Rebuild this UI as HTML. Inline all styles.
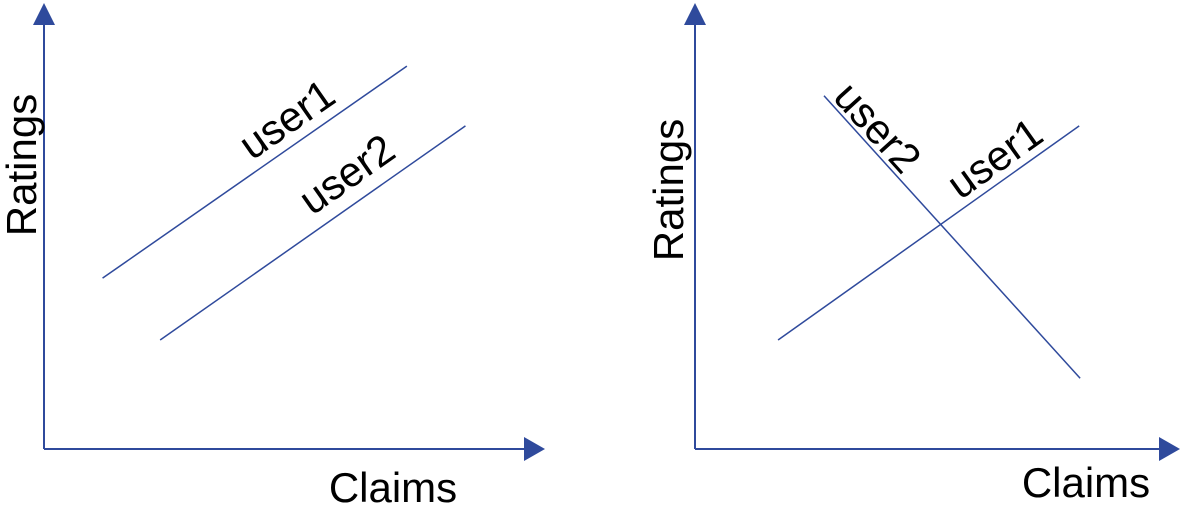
<!DOCTYPE html>
<html><head><meta charset="utf-8"><style>
body{margin:0;background:#fff;width:1200px;height:509px;overflow:hidden}
text{font-family:"Liberation Sans",Arial,sans-serif;fill:#000}
</style></head><body>
<svg width="1200" height="509">
<g id="left"></g>
<g id="right"></g>
</svg>
<script>
const leftSeries = ["user1", "user2"];
const leftX1 = [12.2, 24.2];
const leftY1 = [40.3, 25.7];
const leftX2 = [75.6, 87.8];
const leftY2 = [90.3, 76.2];
const rightSeries = ["user1", "user2"];
const rightX1 = [17.9, 27.8];
const rightY1 = [25.7, 83.3];
const rightX2 = [82.8, 83.0];
const rightY2 = [76.2, 16.7];
const C = "#2f4a9c";
const NS = "http://www.w3.org/2000/svg";
function mk(tag, attrs, parent){const e=document.createElementNS(NS,tag);for(const k in attrs)e.setAttribute(k,attrs[k]);parent.appendChild(e);return e;}
function chart(g, ox, xEnd, oy, yTop, series, x1, y1, x2, y2, labelPos, claimsPos, ratingsPos){
  const sx = v => ox + v/100*(xEnd-ox);
  const sy = v => oy - v/100*(oy-yTop);
  let e = mk('line',{x1:ox,y1:oy,x2:ox,y2:yTop,stroke:C,'stroke-width':2},g);
   
  e = mk('polygon',{points:`${ox-11},${yTop} ${ox+11},${yTop} ${ox},${yTop-22}`,fill:C},g);
   
  e = mk('line',{x1:ox,y1:oy,x2:xEnd,y2:oy,stroke:C,'stroke-width':2},g);
   
  e = mk('polygon',{points:`${xEnd},${oy-12} ${xEnd},${oy+12} ${xEnd+21},${oy}`,fill:C},g);
   
  for(let i=0;i<series.length;i++){
    const ax=sx(x1[i]), ay=sy(y1[i]), bx=sx(x2[i]), by=sy(y2[i]);
    e = mk('line',{x1:ax,y1:ay,x2:bx,y2:by,stroke:C,'stroke-width':1.5},g);
     
    const ang = Math.atan2(by-ay,bx-ax)*180/Math.PI;
    const lp = labelPos[i];
    const t = mk('text',{x:0,y:0,'font-size':42,'text-anchor':'middle',transform:`translate(${lp[0]},${lp[1]}) rotate(${ang})`},g);
    t.textContent = series[i];
     
  }
  e = mk('text',{x:claimsPos[0],y:claimsPos[1],'font-size':42,'text-anchor':'middle'},g);
  e.textContent='Claims';
   
  e = mk('text',{x:0,y:0,'font-size':42,'text-anchor':'middle',transform:`translate(${ratingsPos[0]},${ratingsPos[1]}) rotate(-90)`},g);
  e.textContent='Ratings';
   
}
chart(document.getElementById('left'),44,524,449,25,leftSeries,leftX1,leftY1,leftX2,leftY2,
  [[295,131],[355,186]],[393,502],[36,165]);
chart(document.getElementById('right'),695,1159,449,25,rightSeries,rightX1,rightY1,rightX2,rightY2,
  [[1003,170],[867,137]],[1086,497],[683,190]);
</script>
</body></html>
